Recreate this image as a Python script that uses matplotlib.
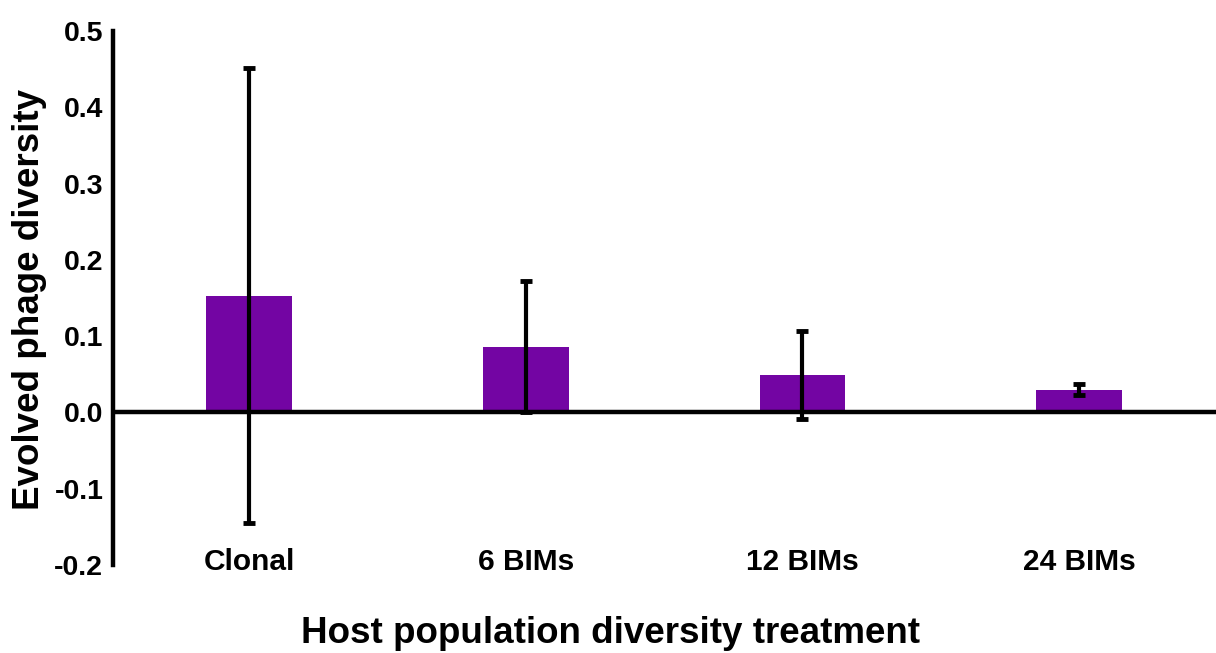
import numpy as np
import matplotlib
matplotlib.use('Agg')
import matplotlib.pyplot as plt

# Data
treatments = ['Clonal', '6 BIMs', '12 BIMs', '24 BIMs']
mean_diversity = [0.153, 0.086, 0.049, 0.030]
error_diversity = [0.298, 0.086, 0.058, 0.0075]
y_ticks = [-0.2, -0.1, 0.0, 0.1, 0.2, 0.3, 0.4, 0.5]

plt.rcParams['font.family'] = ['Liberation Sans', 'DejaVu Sans']
plt.rcParams['font.weight'] = 'bold'

fig = plt.figure(figsize=(12.16, 6.53), dpi=100)
fig.patch.set_facecolor('white')
ax = fig.add_axes([0.093, 0.1348, 0.907, 0.8177])

x = np.arange(len(treatments))

# Bars
ax.bar(x, mean_diversity, width=0.31, color='#7305a3', zorder=2)

# Error bars
ax.errorbar(x, mean_diversity, yerr=error_diversity, fmt='none',
            ecolor='black', elinewidth=3, capsize=4.5, capthick=3.5, zorder=3)

# Zero line
ax.axhline(0, color='black', linewidth=3.2, zorder=4)

ax.set_xlim(-0.492, 3.495)
ax.set_ylim(-0.2, 0.5)

# Spines
for side in ['top', 'right', 'bottom']:
    ax.spines[side].set_visible(False)
ax.spines['left'].set_linewidth(3.2)

ax.set_yticks(y_ticks)
ax.set_yticklabels([f'{v:.1f}' for v in y_ticks], fontsize=20.5, fontweight='bold')
ax.tick_params(axis='y', length=0, pad=7)

# Category labels sit at the bottom of the axis
ax.set_xticks([])
for i, name in enumerate(treatments):
    ax.text(i, 0.006, name, transform=ax.get_xaxis_transform(),
            ha='center', va='center', fontsize=21.5, fontweight='bold')

fig.text(0.502, 0.03, 'Host population diversity treatment',
         ha='center', va='center', fontsize=26.5, fontweight='bold')
fig.text(0.024, 0.541, 'Evolved phage diversity', rotation=90,
         ha='center', va='center', fontsize=26.5, fontweight='bold')

plt.savefig('out.png', dpi=100, facecolor='white')
plt.close()
